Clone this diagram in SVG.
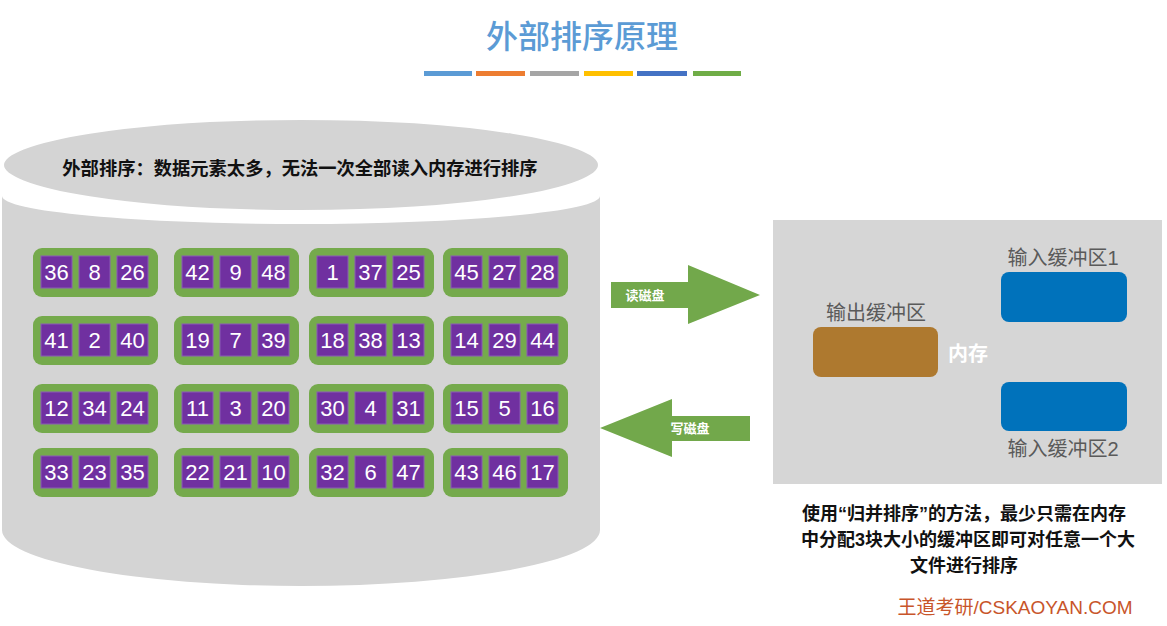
<svg xmlns="http://www.w3.org/2000/svg" width="1167" height="626" viewBox="0 0 1167 626">
<style>
.cjk{font-family:"Liberation Sans","Noto Sans CJK SC",sans-serif}
.grp{fill:#75AA4C}
.cell{fill:#7030A0;stroke:#8A5BB5;stroke-width:1}
.num{font-family:"Liberation Sans",sans-serif;font-size:22px;fill:#fff;text-anchor:middle}
.lbl{font-family:"Liberation Sans","Noto Sans CJK SC",sans-serif;font-size:20px;fill:#5a5a5a;text-anchor:middle}
.arr{fill:#72A84B}
.alb{font-family:"Noto Sans CJK SC",sans-serif;font-size:13px;font-weight:bold;fill:#fff;text-anchor:middle}
</style>
<rect width="1167" height="626" fill="#fff"/>
<g id="title">
<text x="582" y="48" text-anchor="middle" font-family="Noto Sans CJK SC, sans-serif" font-size="32" font-weight="500" fill="#5B9BD5">外部排序原理</text>
<rect x="424" y="71" width="48" height="5" fill="#5B9BD5"/>
<rect x="476" y="71" width="49" height="5" fill="#ED7D31"/>
<rect x="530" y="71" width="49" height="5" fill="#A5A5A5"/>
<rect x="584" y="71" width="49" height="5" fill="#FFC000"/>
<rect x="637" y="71" width="50" height="5" fill="#4472C4"/>
<rect x="693" y="71" width="48" height="5" fill="#70AD47"/>
</g>
<g id="disk">
<path d="M2,196 A299,28 0 0 0 600,196 L600,530 A299,56 0 0 1 2,530 Z" fill="#D4D4D4"/>
<ellipse cx="301" cy="165" rx="299" ry="47" fill="#D4D4D4" stroke="#fff" stroke-width="4"/>
<text x="300" y="175" text-anchor="middle" font-family="Noto Sans CJK SC, sans-serif" font-size="18.3" font-weight="bold" fill="#111">外部排序：数据元素太多，无法一次全部读入内存进行排序</text>
</g>
<defs>
<g id="blk">
<rect x="0" y="0" width="125" height="49" rx="9" class="grp"/>
<rect x="8" y="8" width="31" height="32" class="cell"/>
<rect x="46" y="8" width="31" height="32" class="cell"/>
<rect x="84" y="8" width="31" height="32" class="cell"/>
</g>
</defs>
<g id="blocks">
<g id="b11" transform="translate(33,248)"><use href="#blk"/><text class="num" x="23.5" y="32">36</text><text class="num" x="61.5" y="32">8</text><text class="num" x="99.5" y="32">26</text></g>
<g id="b12" transform="translate(174,248)"><use href="#blk"/><text class="num" x="23.5" y="32">42</text><text class="num" x="61.5" y="32">9</text><text class="num" x="99.5" y="32">48</text></g>
<g id="b13" transform="translate(309,248)"><use href="#blk"/><text class="num" x="23.5" y="32">1</text><text class="num" x="61.5" y="32">37</text><text class="num" x="99.5" y="32">25</text></g>
<g id="b14" transform="translate(443,248)"><use href="#blk"/><text class="num" x="23.5" y="32">45</text><text class="num" x="61.5" y="32">27</text><text class="num" x="99.5" y="32">28</text></g>
<g id="b21" transform="translate(33,316)"><use href="#blk"/><text class="num" x="23.5" y="32">41</text><text class="num" x="61.5" y="32">2</text><text class="num" x="99.5" y="32">40</text></g>
<g id="b22" transform="translate(174,316)"><use href="#blk"/><text class="num" x="23.5" y="32">19</text><text class="num" x="61.5" y="32">7</text><text class="num" x="99.5" y="32">39</text></g>
<g id="b23" transform="translate(309,316)"><use href="#blk"/><text class="num" x="23.5" y="32">18</text><text class="num" x="61.5" y="32">38</text><text class="num" x="99.5" y="32">13</text></g>
<g id="b24" transform="translate(443,316)"><use href="#blk"/><text class="num" x="23.5" y="32">14</text><text class="num" x="61.5" y="32">29</text><text class="num" x="99.5" y="32">44</text></g>
<g id="b31" transform="translate(33,384)"><use href="#blk"/><text class="num" x="23.5" y="32">12</text><text class="num" x="61.5" y="32">34</text><text class="num" x="99.5" y="32">24</text></g>
<g id="b32" transform="translate(174,384)"><use href="#blk"/><text class="num" x="23.5" y="32">11</text><text class="num" x="61.5" y="32">3</text><text class="num" x="99.5" y="32">20</text></g>
<g id="b33" transform="translate(309,384)"><use href="#blk"/><text class="num" x="23.5" y="32">30</text><text class="num" x="61.5" y="32">4</text><text class="num" x="99.5" y="32">31</text></g>
<g id="b34" transform="translate(443,384)"><use href="#blk"/><text class="num" x="23.5" y="32">15</text><text class="num" x="61.5" y="32">5</text><text class="num" x="99.5" y="32">16</text></g>
<g id="b41" transform="translate(33,448)"><use href="#blk"/><text class="num" x="23.5" y="32">33</text><text class="num" x="61.5" y="32">23</text><text class="num" x="99.5" y="32">35</text></g>
<g id="b42" transform="translate(174,448)"><use href="#blk"/><text class="num" x="23.5" y="32">22</text><text class="num" x="61.5" y="32">21</text><text class="num" x="99.5" y="32">10</text></g>
<g id="b43" transform="translate(309,448)"><use href="#blk"/><text class="num" x="23.5" y="32">32</text><text class="num" x="61.5" y="32">6</text><text class="num" x="99.5" y="32">47</text></g>
<g id="b44" transform="translate(443,448)"><use href="#blk"/><text class="num" x="23.5" y="32">43</text><text class="num" x="61.5" y="32">46</text><text class="num" x="99.5" y="32">17</text></g>
</g>
<g id="memory">
<rect x="773" y="220" width="389" height="264" fill="#D6D6D6"/>
<text x="968" y="361" text-anchor="middle" font-family="Noto Sans CJK SC, sans-serif" font-size="20" font-weight="bold" fill="#fff">内存</text>
</g>
<g id="outbuf">
<rect x="813" y="327" width="125" height="50" rx="8" fill="#AE792F"/>
<text class="lbl" x="876" y="320">输出缓冲区</text>
</g>
<g id="inbuf1">
<rect x="1001" y="272" width="126" height="50" rx="8" fill="#0072BB"/>
<text class="lbl" x="1063" y="265">输入缓冲区1</text>
</g>
<g id="inbuf2">
<rect x="1001" y="382" width="126" height="49" rx="8" fill="#0072BB"/>
<text class="lbl" x="1063" y="456">输入缓冲区2</text>
</g>
<g id="connectors">
<g id="read">
<path class="arr" d="M611,282 L688,282 L688,265 L760,295 L688,324 L688,308 L611,308 Z"/>
<text class="alb" x="645" y="300">读磁盘</text>
</g>
<g id="write">
<path class="arr" d="M750,416 L672,416 L672,399 L600,428 L672,457 L672,441 L750,441 Z"/>
<text class="alb" x="690" y="433">写磁盘</text>
</g>
</g>
<g id="note" font-family="Liberation Sans, Noto Sans CJK SC, sans-serif" font-size="18" font-weight="bold" fill="#111" text-anchor="middle">
<text x="964" y="520">使用“归并排序”的方法，最少只需在内存</text>
<text x="968" y="546">中分配3块大小的缓冲区即可对任意一个大</text>
<text x="964" y="572">文件进行排序</text>
</g>
<text x="1015" y="614" text-anchor="middle" font-family="Liberation Sans, Noto Sans CJK SC, sans-serif" font-size="19" fill="#C8552A">王道考研/CSKAOYAN.COM</text>
</svg>
